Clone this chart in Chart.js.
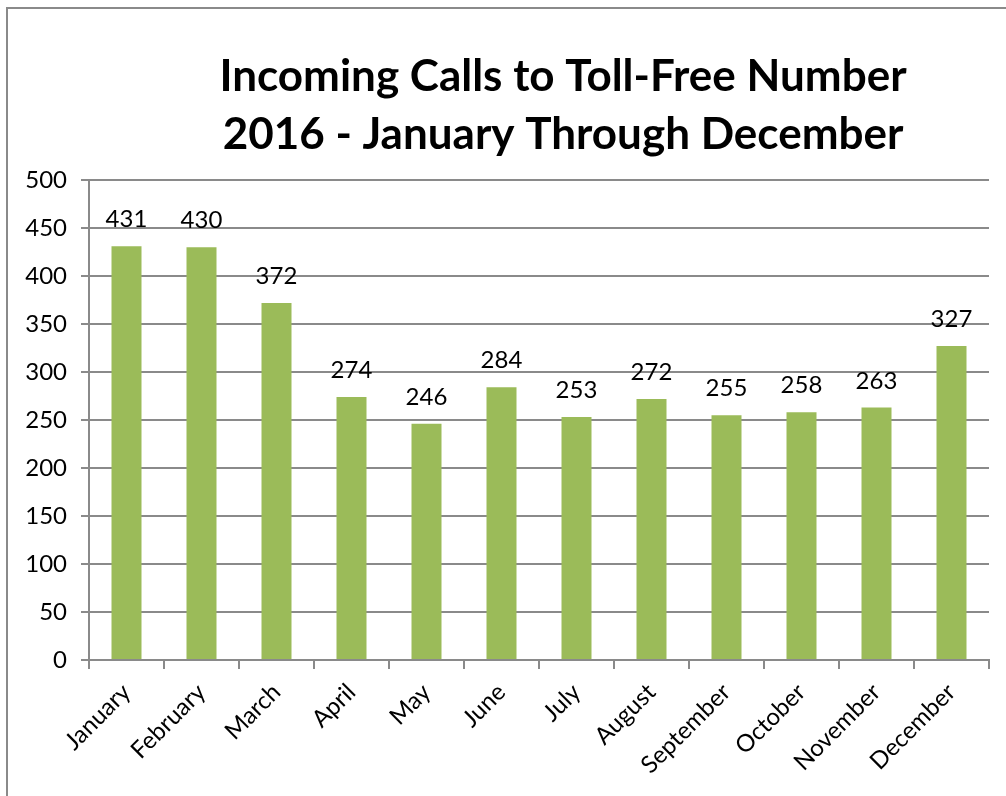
<!DOCTYPE html>
<html><head><meta charset="utf-8">
<script src="https://cdn.jsdelivr.net/npm/chart.js@4/dist/chart.umd.min.js"></script>
<style>
html,body{margin:0;padding:0;background:#fff;overflow:hidden}
#wrap{position:relative;width:1006px;height:796px}
#frame{position:absolute;left:6px;top:7px;width:1100px;height:900px;border:2px solid #8a8a8a;box-sizing:border-box}
canvas{position:absolute;left:0;top:0}
</style></head>
<body><div id="wrap"><div id="frame"></div><canvas id="c" width="1006" height="796"></canvas></div>
<script>
const titleLines = ["Incoming Calls to Toll-Free Number", "2016 - January Through December"];
const months = ["January","February","March","April","May","June","July","August","September","October","November","December"];
const calls = [431,430,372,274,246,284,253,272,255,258,263,327];
const yTicks = [0,50,100,150,200,250,300,350,400,450,500];

const FONT = "Lato, 'Open Sans', sans-serif";

const titlePlugin = {
  id:'titleDraw',
  afterDraw(chart){
    const ctx = chart.ctx;
    ctx.save();
    ctx.fillStyle='#000';
    ctx.font = "bold 44px " + FONT;
    ctx.textAlign='center';
    ctx.textBaseline='alphabetic';
    ctx.fillText(titleLines[0], 563, 91);
    ctx.fillText(titleLines[1], 563, 149);
    ctx.restore();
  }
};
const labelPlugin = {
  id:'valueLabels',
  afterDatasetsDraw(chart){
    const ctx = chart.ctx;
    const meta = chart.getDatasetMeta(0);
    ctx.save();
    ctx.fillStyle='#000';
    ctx.font = "24px " + FONT;
    ctx.textAlign='center';
    ctx.textBaseline='alphabetic';
    meta.data.forEach((bar,i)=>{
      ctx.fillText(String(calls[i]), bar.x, bar.y - 19);
    });
    ctx.restore();
  }
};

new Chart(document.getElementById('c'), {
  type:'bar',
  data:{labels:months, datasets:[{data:calls, backgroundColor:'#9BBB59', barPercentage:0.4, categoryPercentage:1.0}]},
  options:{
    responsive:false, animation:false,
    layout:{padding:{left:0,top:180,right:17,bottom:0}},
    plugins:{legend:{display:false}, title:{display:false}, tooltip:{enabled:false}},
    scales:{
      x:{
        offset:true,
        grid:{offset:true, drawOnChartArea:false, drawTicks:true, tickLength:9, color:'#8a8a8a', lineWidth:2},
        border:{color:'#8a8a8a', width:2},
        ticks:{color:'#000', font:{family:FONT, size:24}, maxRotation:45, minRotation:45, padding:9, autoSkip:false},
        afterFit(s){ s.height = 136; }
      },
      y:{
        min:0, max:500,
        afterBuildTicks(s){ s.ticks = yTicks.map(v=>({value:v})); },
        grid:{color:'#8a8a8a', lineWidth:2, tickLength:8},
        border:{color:'#8a8a8a', width:2},
        ticks:{color:'#000', font:{family:FONT, size:24}, padding:14},
        afterFit(s){ s.width = 89; }
      }
    }
  },
  plugins:[titlePlugin,labelPlugin]
});
</script></body></html>
